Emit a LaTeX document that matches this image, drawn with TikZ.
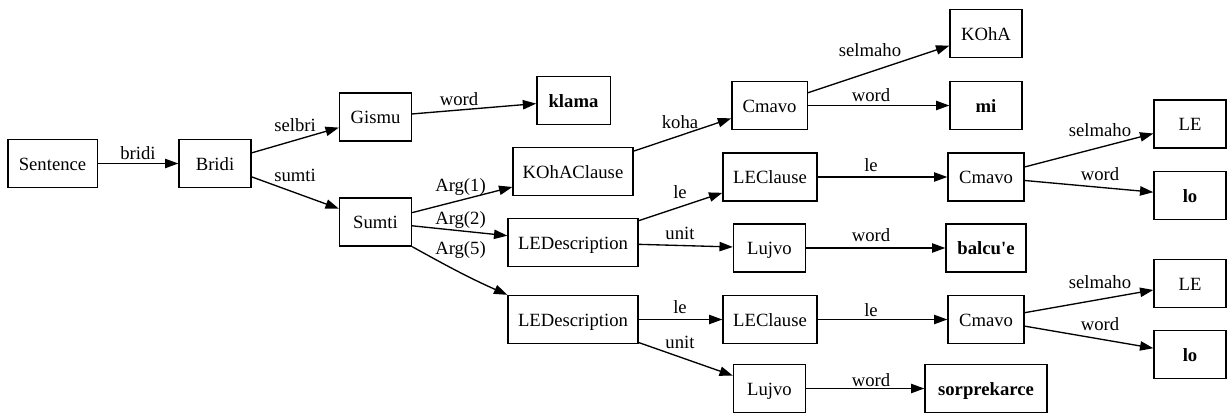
\documentclass[tikz,border=0pt]{standalone}
\usepackage{fontspec}
\setmainfont{Liberation Serif}
\usetikzlibrary{arrows.meta}

\begin{document}
\begin{tikzpicture}[x=0.75pt, y=-0.75pt,
  font=\fontsize{14pt}{16pt}\selectfont,
  box/.style={draw, line width=1pt, inner sep=0pt, minimum height=36pt,
    text height=12pt, text depth=2.2pt},
  wbox/.style={box, font=\fontsize{14pt}{16pt}\selectfont\bfseries},
  edge/.style={draw, line width=1pt, -{Triangle[length=10pt, width=7pt]}},
  lbl/.style={anchor=base, inner sep=0pt}]
\useasboundingbox (0,0) rectangle (1231,413);

% tree nodes
\node[box, minimum width=67pt] (sentence) at (52.5,163.5) {Sentence};
\node[box, minimum width=54pt] (bridi) at (215,163.5) {Bridi};
\node[box, minimum width=54pt] (gismu) at (375.5,117) {Gismu};
\node[box, minimum width=54pt] (sumti) at (375.5,222) {Sumti};
\node[wbox, minimum width=55pt] (klama) at (573.5,100.5) {klama};
\node[box, minimum width=90pt] (kohaclause) at (573,171.5) {KOhAClause};
\node[box, minimum width=97.5pt] (ledesc1) at (573,242.5) {LEDescription};
\node[box, minimum width=97.5pt] (ledesc2) at (573,319.5) {LEDescription};
\node[box, minimum width=56.5pt] (cmavo1) at (769.5,105.5) {Cmavo};
\node[box, minimum width=70.5pt] (leclause1) at (770,177) {LEClause};
\node[box, minimum width=54pt] (lujvo1) at (769.5,248) {Lujvo};
\node[box, minimum width=70.5pt] (leclause2) at (770,319.5) {LEClause};
\node[box, minimum width=54pt] (lujvo2) at (769.5,388.5) {Lujvo};
\node[box, minimum width=54pt] (koha) at (986,33.5) {KOhA};
\node[wbox, minimum width=54pt] (mi) at (986,105.5) {mi};
\node[box, minimum width=57pt] (cmavo2) at (986,177) {Cmavo};
\node[wbox, minimum width=60pt] (balcue) at (986,248) {balcu\textquotesingle e};
\node[box, minimum width=57pt] (cmavo3) at (986,319.5) {Cmavo};
\node[wbox, minimum width=91.5pt] (sorprekarce) at (986,388.5) {sorprekarce};
\node[box, minimum width=54pt] (le1) at (1190,124) {LE};
\node[wbox, minimum width=54pt] (lo1) at (1190,195.5) {lo};
\node[box, minimum width=54pt] (le2) at (1190,283.5) {LE};
\node[wbox, minimum width=54pt] (lo2) at (1190,354.5) {lo};

% connectors
\path[edge] (sentence) -- (bridi);
\path[edge] (bridi) -- (gismu);
\path[edge] (bridi) -- (sumti);
\path[edge] (gismu) -- (klama);
\path[edge] (sumti) -- (kohaclause);
\path[edge] (sumti) -- (ledesc1);
\path[edge] (sumti.south east) to[out=-29, in=156] (ledesc2.north west);
\path[edge] (kohaclause) -- (cmavo1);
\path[edge] (ledesc1) -- (leclause1);
\path[edge] (ledesc1) -- (lujvo1);
\path[edge] (ledesc2) -- (leclause2);
\path[edge] (ledesc2) -- (lujvo2);
\path[edge] (cmavo1) -- (koha);
\path[edge] (cmavo1) -- (mi);
\path[edge] (leclause1) -- (cmavo2);
\path[edge] (lujvo1) -- (balcue);
\path[edge] (leclause2) -- (cmavo3);
\path[edge] (lujvo2) -- (sorprekarce);
\path[edge] (cmavo2) -- (le1);
\path[edge] (cmavo2) -- (lo1);
\path[edge] (cmavo3) -- (le2);
\path[edge] (cmavo3) -- (lo2);

% connector labels
\node[lbl] (l-bridi) at (138,160) {bridi};
\node[lbl] (l-selbri) at (295,131.7) {selbri};
\node[lbl] (l-sumti) at (295,181.7) {sumti};
\node[lbl] (l-word1) at (459,106) {word};
\node[lbl] (l-arg1) at (460.5,191.7) {Arg(1)};
\node[lbl] (l-arg2) at (460.5,225) {Arg(2)};
\node[lbl] (l-arg5) at (460.5,255) {Arg(5)};
\node[lbl] (l-koha) at (680,128.3) {koha};
\node[lbl] (l-le1) at (680,198.3) {le};
\node[lbl] (l-unit1) at (680,240) {unit};
\node[lbl] (l-le2) at (680,313) {le};
\node[lbl] (l-unit2) at (680,348) {unit};
\node[lbl] (l-selmaho1) at (870,56.7) {selmaho};
\node[lbl] (l-word2) at (871,101.7) {word};
\node[lbl] (l-le3) at (871,171.7) {le};
\node[lbl] (l-word3) at (871,241.7) {word};
\node[lbl] (l-le4) at (871,316.7) {le};
\node[lbl] (l-word4) at (871,386.7) {word};
\node[lbl] (l-selmaho2) at (1100,136.7) {selmaho};
\node[lbl] (l-word5) at (1100,181) {word};
\node[lbl] (l-selmaho3) at (1100,289) {selmaho};
\node[lbl] (l-word6) at (1100,330) {word};
\end{tikzpicture}
\end{document}
